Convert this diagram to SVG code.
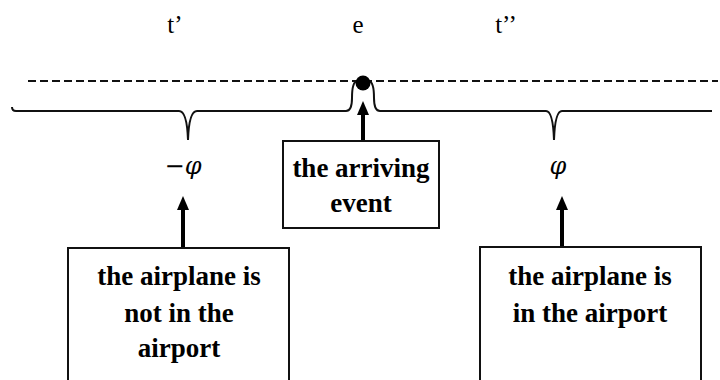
<svg xmlns="http://www.w3.org/2000/svg" width="720" height="380" viewBox="0 0 720 380">
<style>
.lbl{font-family:"Liberation Serif","DejaVu Serif",serif;font-size:25px;fill:#000;text-anchor:middle}
.sym{font-family:"DejaVu Serif","Liberation Serif",serif;font-size:24px;font-style:italic;fill:#000;text-anchor:middle}
.bt{font-family:"Liberation Serif","DejaVu Serif",serif;font-size:27px;font-weight:bold;fill:#000;text-anchor:middle}
.box{fill:#fff;stroke:#111;stroke-width:2}
.brace{fill:none;stroke:#111;stroke-width:2}
.arr{stroke:#000;stroke-width:4;fill:none;marker-end:url(#ah)}
</style>
<defs>
<marker id="ah" markerUnits="userSpaceOnUse" markerWidth="14" markerHeight="12" refX="2" refY="6" orient="auto" viewBox="0 0 14 12">
<path d="M0,0 L14,6 L0,12 Z" fill="#000"/>
</marker>
</defs>
<g id="timeline">
<line x1="28" y1="81" x2="718" y2="81" stroke="#111" stroke-width="2" stroke-dasharray="8,4"/>
<path class="brace" d="M12,107 Q12,111 16,111 L179,111 Q187,111 188,140 Q189,111 197,111 L346,111 Q352,111 352,98 Q352,82 357,81"/>
<path class="brace" d="M369,81 Q374,82 374,98 Q374,111 380,111 L546,111 Q553,111 554,140 Q555,111 562,111 L712,111"/>
<circle cx="363" cy="83" r="7.5" fill="#000"/>
</g>
<g id="labels">
<text class="lbl" x="175" y="33">t’</text>
<text class="lbl" x="358" y="33">e</text>
<text class="lbl" x="506" y="33">t’’</text>
<text class="sym" x="183" y="174">−φ</text>
<text class="sym" x="558" y="174">φ</text>
</g>
<g id="connectors">
<line class="arr" x1="363" y1="141" x2="363" y2="113"/>
<line class="arr" x1="183" y1="248" x2="183" y2="208"/>
<line class="arr" x1="562" y1="247" x2="562" y2="208"/>
</g>
<g id="node-event">
<rect class="box" x="283" y="141" width="156" height="87"/>
<text class="bt" x="361" y="177">the arriving</text>
<text class="bt" x="361" y="212">event</text>
</g>
<g id="node-not-in">
<rect class="box" x="68" y="248" width="221" height="140"/>
<text class="bt" x="179" y="285">the airplane is</text>
<text class="bt" x="179" y="322">not in the</text>
<text class="bt" x="179" y="357">airport</text>
</g>
<g id="node-in">
<rect class="box" x="480" y="247" width="221" height="140"/>
<text class="bt" x="590" y="285">the airplane is</text>
<text class="bt" x="590" y="322">in the airport</text>
</g>
</svg>
